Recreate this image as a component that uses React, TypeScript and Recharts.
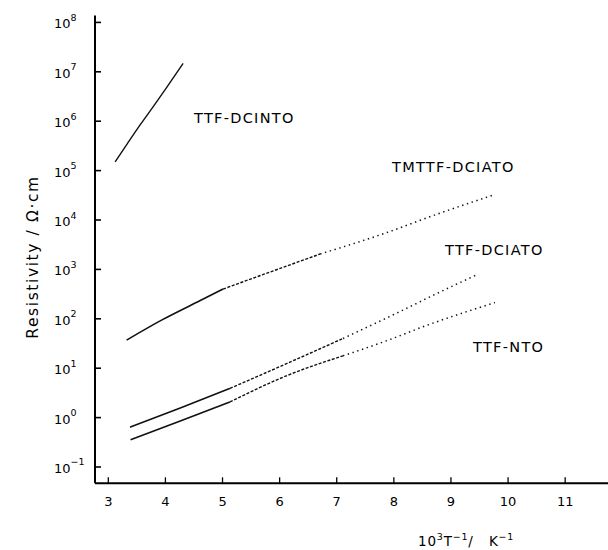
import React from 'react';
import { LineChart, Line, XAxis, YAxis } from 'recharts';

// x = 10^3 T^-1 / K^-1, y = resistivity / Ω·cm
const xTicks = [3, 4, 5, 6, 7, 8, 9, 10, 11];
const yExponents = [-1, 0, 1, 2, 3, 4, 5, 6, 7, 8];
const yTicks = yExponents.map((e) => Math.pow(10, e));

const dcintoX = [3.12, 3.34, 3.56, 3.79, 4.02, 4.31];
const dcintoY = [1.5e5, 3.6e5, 8.5e5, 2.0e6, 4.8e6, 1.48e7];

const tmttfX = [3.32, 3.94, 4.61, 5.01, 6.01, 6.71, 7.76, 8.81, 9.74];
const tmttfY = [37, 95, 234, 400, 1050, 2050, 5000, 13800, 32000];

const dciatoX = [3.38, 4.26, 5.13, 6.13, 7.11, 8.16, 8.69, 9.45];
const dciatoY = [0.64, 1.57, 3.9, 12.5, 40, 150, 300, 775];

const ntoX = [3.39, 4.26, 5.13, 6.13, 7.11, 7.93, 8.51, 9.77];
const ntoY = [0.355, 0.85, 2.08, 7.1, 17.8, 38, 69, 213];

const seriesNames = ['TTF-DCINTO', 'TMTTF-DCIATO', 'TTF-DCIATO', 'TTF-NTO'];

const toPts = (xs: number[], ys: number[]) => xs.map((x, i) => ({ x, y: ys[i] }));

const X_DOMAIN: [number, number] = [2.767, 11.75];
const Y_DOMAIN: [number, number] = [Math.pow(10, -1.33), Math.pow(10, 8.14)];

const SOLID = { strokeWidth: 1.6 };
const DASH = { strokeWidth: 1.4, strokeDasharray: '3 1.6' };
const DOT = { strokeWidth: 1.5, strokeDasharray: '1.4 3.6' };

type Seg = { data: { x: number; y: number }[]; style: any; key: string };

const split = (name: string, pts: { x: number; y: number }[], cuts: number[], styles: any[]): Seg[] => {
  const segs: Seg[] = [];
  let start = 0;
  cuts.concat([pts.length - 1]).forEach((end, i) => {
    segs.push({ data: pts.slice(start, end + 1), style: styles[i], key: name + i });
    start = end;
  });
  return segs;
};

const segments: Seg[] = [
  ...split(seriesNames[0], toPts(dcintoX, dcintoY), [], [{ strokeWidth: 1.4 }]),
  ...split(seriesNames[1], toPts(tmttfX, tmttfY), [3, 5], [SOLID, DASH, DOT]),
  ...split(seriesNames[2], toPts(dciatoX, dciatoY), [2, 4], [SOLID, DASH, DOT]),
  ...split(seriesNames[3], toPts(ntoX, ntoY), [2, 4], [SOLID, DASH, DOT]),
];

const FONT = '"DejaVu Sans", Verdana, sans-serif';

const LeftTick = (props: any) => {
  const { x, y, payload } = props;
  const e = Math.round(Math.log10(payload.value));
  return (
    <g>
      <line x1={x} x2={x + 6} y1={y} y2={y} stroke="#000" strokeWidth={1.6} />
      <text x={x - 41} y={y + 6} fontSize={13} fontFamily={FONT} fill="#000">
        10
        <tspan dy={-7.5} fontSize={9.5}>{e < 0 ? '\u2212' + Math.abs(e) : String(e)}</tspan>
      </text>
    </g>
  );
};

const RightTick = (props: any) => {
  const { x, y } = props;
  return <line x1={x - 4} x2={x} y1={y} y2={y} stroke="#000" strokeWidth={1.6} />;
};

const BottomTick = (props: any) => {
  const { x, y, payload } = props;
  return (
    <g>
      <line x1={x} x2={x} y1={y} y2={y - 6} stroke="#000" strokeWidth={1.3} />
      <text x={x} y={y + 23} textAnchor="middle" fontSize={13} fontFamily={FONT} fill="#000">
        {payload.value}
      </text>
    </g>
  );
};

const labelStyle = { fontSize: 14.5, fontFamily: FONT, letterSpacing: 1.3, fill: '#000' } as any;

export default function App() {
  return (
    <div style={{ position: 'absolute', left: 0, top: 0, width: 608, height: 550, background: '#fff' }}>
      <LineChart width={608} height={550} margin={{ top: 15.5, right: 0, bottom: 0, left: 0 }}>
        <XAxis
          xAxisId="bottom"
          type="number"
          dataKey="x"
          domain={X_DOMAIN}
          allowDataOverflow
          ticks={xTicks}
          interval={0}
          height={66.7}
          tickLine={false}
          tickSize={0}
          tickMargin={0}
          axisLine={{ stroke: '#000', strokeWidth: 2 }}
          tick={<BottomTick />}
        />
        <XAxis
          xAxisId="top"
          orientation="top"
          type="number"
          dataKey="x"
          domain={X_DOMAIN}
          allowDataOverflow
          height={0}
          tick={false}
          tickLine={false}
          axisLine={{ stroke: '#000', strokeWidth: 2 }}
        />
        <YAxis
          yAxisId="left"
          scale="log"
          type="number"
          dataKey="y"
          domain={Y_DOMAIN}
          allowDataOverflow
          ticks={yTicks}
          interval={0}
          width={95}
          tickLine={false}
          tickSize={0}
          tickMargin={0}
          axisLine={{ stroke: '#000', strokeWidth: 2 }}
          tick={<LeftTick />}
        />
        <YAxis
          yAxisId="right"
          orientation="right"
          scale="log"
          type="number"
          dataKey="y"
          domain={Y_DOMAIN}
          allowDataOverflow
          ticks={yTicks}
          interval={0}
          width={0}
          axisLine={false}
          tickLine={false}
          tickSize={0}
          tickMargin={0}
          tick={<RightTick />}
        />
        {segments.map((s) => (
          <Line
            key={s.key}
            xAxisId="bottom"
            yAxisId="left"
            data={s.data}
            dataKey="y"
            type="monotone"
            stroke="#111"
            dot={false}
            activeDot={false}
            isAnimationActive={false}
            {...s.style}
          />
        ))}
      </LineChart>
      <svg
        width={608}
        height={550}
        style={{ position: 'absolute', left: 0, top: 0, pointerEvents: 'none' }}
      >
        <text x={194} y={123} {...labelStyle}>{seriesNames[0]}</text>
        <text x={392} y={172} {...labelStyle}>{seriesNames[1]}</text>
        <text x={445} y={255} {...labelStyle}>{seriesNames[2]}</text>
        <text x={473} y={352} {...labelStyle}>{seriesNames[3]}</text>
        <text
          x={0}
          y={0}
          transform="translate(38 257) rotate(-90)"
          textAnchor="middle"
          fontSize={15.5}
          letterSpacing={1.6}
          fontFamily={FONT}
          fill="#000"
        >
          Resistivity / Ω·cm
        </text>
        <text x={418} y={546} fontSize={13.5} letterSpacing={0.8} fontFamily={FONT} fill="#000">
          10<tspan dy={-6} fontSize={9.5}>3</tspan>
          <tspan dy={6}>T</tspan>
          <tspan dy={-6} fontSize={9.5}>{'\u22121'}</tspan>
          <tspan dy={6}>{'/\u00a0\u00a0\u00a0K'}</tspan>
          <tspan dy={-6} fontSize={9.5}>{'\u22121'}</tspan>
        </text>
      </svg>
    </div>
  );
}
